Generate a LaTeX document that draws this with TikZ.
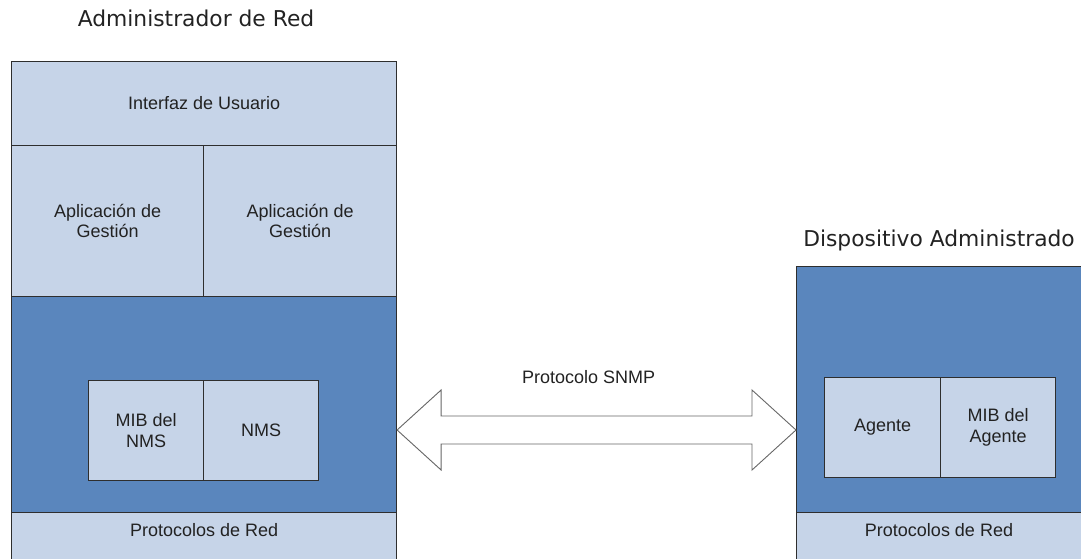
\documentclass[tikz,border=0pt]{standalone}
\usepackage{fontspec}
\setmainfont{Liberation Sans}
\newfontfamily\headfont{DejaVu Sans}
\usetikzlibrary{calc}

\definecolor{paleblue}{HTML}{C6D4E8}
\definecolor{deepblue}{HTML}{5A86BD}
\definecolor{edge}{HTML}{2E2E2E}
\definecolor{inktext}{HTML}{222222}

\begin{document}
\begin{tikzpicture}[x=1pt,y=-1pt,
  cell/.style={draw=edge, fill=paleblue, line width=1.1pt, inner sep=0pt,
    anchor=north west, align=center, text=inktext,
    font=\fontsize{18}{20.5}\selectfont},
  core/.style={cell, fill=deepblue},
  plain/.style={text=inktext, font=\fontsize{18}{20.5}\selectfont},
  heading/.style={text=inktext, font=\headfont\fontsize{21.8}{24}\selectfont},
  bigarrow/.style={draw=black!60, fill=white, line width=0.9pt, line join=miter}]

\useasboundingbox (0,0) rectangle (1081,558);

% --- network manager stack ---
\node[heading] (mgrtitle) at (196,18) {Administrador de Red};
\node[cell, minimum width=385, minimum height=84] (ui) at (11,61) {Interfaz de Usuario};
\node[cell, minimum width=192, minimum height=151] (app1) at (11,145) {Aplicación de\\Gestión};
\node[cell, minimum width=193, minimum height=151] (app2) at (203,145) {Aplicación de\\Gestión};
\node[core, minimum width=385, minimum height=216] (mgrcore) at (11,296) {};
\node[cell, minimum width=115, minimum height=100] (mibnms) at (88,380) {MIB del\\NMS};
\node[cell, minimum width=115, minimum height=100] (nms) at (203,380) {NMS};
\node[cell, minimum width=385, minimum height=70] (mgrnet) at (11,512) {};
\node[plain] (mgrnettext) at ($(mgrnet.north)+(0,18)$) {Protocolos de Red};

% --- managed device stack ---
\node[heading] (devtitle) at (939,240) {Dispositivo Administrado};
\node[core, minimum width=290, minimum height=246] (devcore) at (796,266) {};
\node[cell, minimum width=116, minimum height=100] (agent) at (824,377) {Agente};
\node[cell, minimum width=115, minimum height=100] (mibag) at (940,377) {MIB del\\Agente};
\node[cell, minimum width=290, minimum height=70] (devnet) at (796,512) {};
\node[plain] (devnettext) at (939,530) {Protocolos de Red};

% --- SNMP exchange ---
\coordinate (ltip) at (mgrcore.east |- 0,430);
\coordinate (rtip) at (devcore.west |- 0,430);
\draw[bigarrow] (ltip) -- ++(44,-40) -- ++(0,26) -- ($(rtip)+(-44,-14)$)
  -- ++(0,-26) -- (rtip) -- ++(-44,40) -- ++(0,-26) -- ($(ltip)+(44,14)$)
  -- ++(0,26) -- cycle;
\node[plain] (snmp) at ($(ltip)!0.48!(rtip)+(0,-53)$) {Protocolo SNMP};

\end{tikzpicture}
\end{document}
